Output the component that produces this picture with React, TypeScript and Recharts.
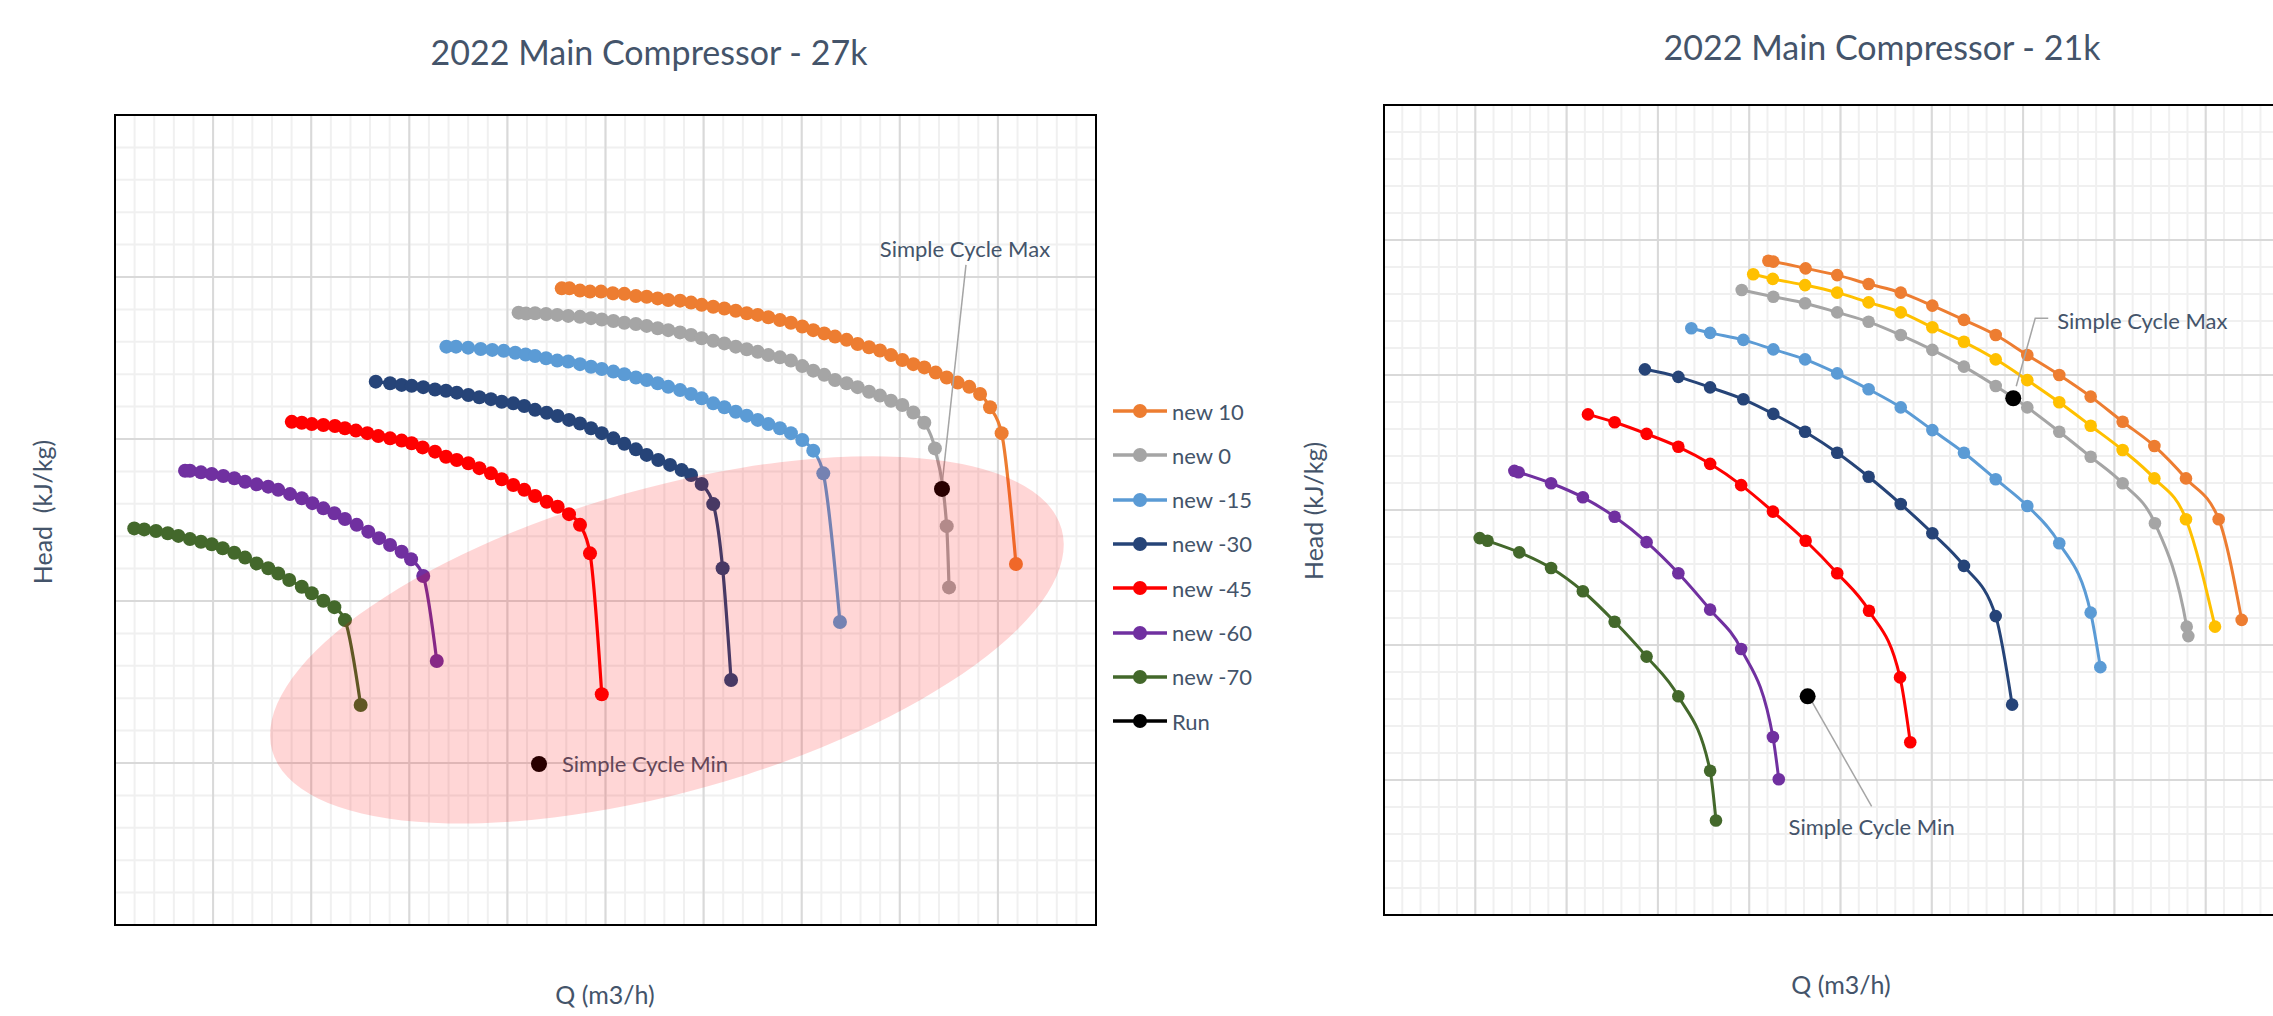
import React from "react";
import {
  ComposedChart,
  Line,
  Scatter,
  XAxis,
  YAxis,
  CartesianGrid,
  ReferenceArea,
} from "recharts";

type Pt = [number, number];

// Axis units are grid divisions (the source charts hide the numbers).
// 27k map: Q 0..50, Head 0..25
const left10: Pt[] = [[22.77,19.65],[23.16,19.65],[23.70,19.58],[24.21,19.55],[24.77,19.55],[25.37,19.50],[25.96,19.48],[26.55,19.41],[27.10,19.39],[27.66,19.34],[28.20,19.29],[28.80,19.27],[29.36,19.21],[29.90,19.14],[30.49,19.08],[31.06,19.03],[31.64,18.96],[32.20,18.88],[32.76,18.83],[33.30,18.76],[33.89,18.67],[34.45,18.59],[35.03,18.47],[35.59,18.36],[36.15,18.26],[36.70,18.16],[37.29,18.06],[37.85,17.93],[38.43,17.83],[38.99,17.73],[39.55,17.59],[40.13,17.44],[40.69,17.31],[41.25,17.21],[41.83,17.05],[42.39,16.90],[42.95,16.74],[43.54,16.61],[44.09,16.39],[44.60,15.98],[45.19,15.18],[45.92,11.14]];
const left0: Pt[] = [[20.57,18.90],[20.95,18.87],[21.41,18.88],[21.97,18.86],[22.54,18.83],[23.10,18.80],[23.70,18.77],[24.26,18.73],[24.81,18.69],[25.40,18.64],[25.96,18.59],[26.55,18.55],[27.10,18.49],[27.66,18.42],[28.20,18.36],[28.80,18.29],[29.36,18.21],[29.90,18.11],[30.49,18.03],[31.06,17.95],[31.64,17.85],[32.20,17.77],[32.76,17.69],[33.30,17.59],[33.89,17.52],[34.45,17.42],[35.03,17.25],[35.59,17.11],[36.15,16.98],[36.70,16.82],[37.29,16.72],[37.85,16.60],[38.43,16.46],[38.99,16.34],[39.55,16.18],[40.13,16.05],[40.69,15.82],[41.25,15.50],[41.79,14.71],[42.39,12.31],[42.51,10.42]];
const leftM15: Pt[] = [[16.89,17.85],[17.38,17.85],[18.00,17.82],[18.64,17.78],[19.23,17.75],[19.81,17.72],[20.40,17.66],[20.93,17.61],[21.41,17.56],[21.97,17.49],[22.54,17.42],[23.10,17.39],[23.70,17.31],[24.26,17.23],[24.81,17.16],[25.40,17.08],[25.96,17.00],[26.55,16.90],[27.10,16.82],[27.66,16.72],[28.20,16.61],[28.80,16.51],[29.36,16.39],[29.90,16.26],[30.49,16.10],[31.06,15.98],[31.64,15.84],[32.20,15.72],[32.76,15.59],[33.30,15.46],[33.89,15.33],[34.45,15.18],[35.03,14.97],[35.59,14.64],[36.10,13.94],[36.95,9.35]];
const leftM30: Pt[] = [[13.29,16.77],[14.02,16.72],[14.61,16.67],[15.12,16.64],[15.71,16.60],[16.31,16.53],[16.87,16.49],[17.42,16.43],[18.01,16.36],[18.57,16.29],[19.16,16.23],[19.71,16.15],[20.30,16.10],[20.86,16.02],[21.41,15.90],[22.00,15.81],[22.56,15.71],[23.14,15.59],[23.70,15.48],[24.26,15.33],[24.81,15.18],[25.40,15.02],[25.96,14.85],[26.55,14.68],[27.10,14.51],[27.69,14.35],[28.29,14.20],[28.88,14.04],[29.36,13.89],[29.90,13.61],[30.49,12.99],[30.97,11.01],[31.40,7.56]];
const leftM45: Pt[] = [[9.01,15.53],[9.52,15.50],[10.03,15.46],[10.62,15.43],[11.21,15.40],[11.72,15.33],[12.28,15.26],[12.86,15.18],[13.42,15.09],[14.02,15.02],[14.61,14.95],[15.12,14.87],[15.68,14.74],[16.31,14.61],[16.87,14.45],[17.42,14.35],[18.01,14.25],[18.57,14.10],[19.16,13.94],[19.71,13.76],[20.30,13.58],[20.86,13.43],[21.41,13.24],[22.00,13.06],[22.56,12.91],[23.14,12.68],[23.70,12.35],[24.21,11.47],[24.81,7.12]];
const leftM60: Pt[] = [[3.57,14.02],[3.82,14.02],[4.38,13.97],[4.93,13.92],[5.52,13.86],[6.08,13.79],[6.63,13.68],[7.22,13.60],[7.81,13.53],[8.32,13.43],[8.92,13.30],[9.52,13.17],[10.06,13.02],[10.62,12.86],[11.18,12.71],[11.72,12.53],[12.32,12.35],[12.91,12.14],[13.46,11.94],[14.02,11.73],[14.61,11.52],[15.09,11.29],[15.71,10.77],[16.40,8.15]];
const leftM70: Pt[] = [[0.98,12.24],[1.49,12.21],[2.09,12.16],[2.69,12.09],[3.23,12.01],[3.82,11.91],[4.38,11.83],[4.93,11.75],[5.49,11.63],[6.08,11.49],[6.63,11.34],[7.22,11.16],[7.81,11.01],[8.32,10.85],[8.88,10.65],[9.52,10.44],[10.03,10.24],[10.62,10.01],[11.18,9.81],[11.72,9.41],[12.52,6.79]];
const leftRun: Pt[] = [[42.15,13.46],[21.61,4.97]];
const leftZone: Pt[] = [[28.13,8.80]];

// 21k map: Q 0..50, Head 0..30
const right10: Pt[] = [[21.05,24.23],[21.32,24.20],[23.09,23.95],[24.82,23.70],[26.54,23.37],[28.30,23.05],[30.03,22.57],[31.76,22.04],[33.50,21.48],[35.23,20.74],[36.98,20.00],[38.70,19.20],[40.45,18.27],[42.19,17.37],[43.92,16.17],[45.71,14.66],[46.97,10.93]];
const right5: Pt[] = [[20.22,23.73],[21.29,23.56],[23.06,23.33],[24.82,23.05],[26.54,22.69],[28.30,22.32],[30.03,21.77],[31.76,21.23],[33.50,20.58],[35.23,19.81],[36.98,18.99],[38.70,18.12],[40.45,17.22],[42.19,16.17],[43.92,14.66],[45.51,10.68]];
const right0: Pt[] = [[19.59,23.15],[21.32,22.90],[23.06,22.66],[24.82,22.32],[26.54,21.97],[28.30,21.48],[30.03,20.93],[31.76,20.31],[33.50,19.59],[35.23,18.80],[36.98,17.90],[38.70,16.97],[40.45,15.99],[42.22,14.51],[43.96,10.68],[44.05,10.33]];
const rightM15: Pt[] = [[16.83,21.73],[17.86,21.56],[19.68,21.30],[21.32,20.95],[23.06,20.58],[24.82,20.06],[26.54,19.47],[28.30,18.80],[30.03,17.96],[31.76,17.12],[33.50,16.14],[35.23,15.15],[36.98,13.77],[38.70,11.20],[39.23,9.18]];
const rightM30: Pt[] = [[14.29,20.21],[16.12,19.93],[17.86,19.54],[19.68,19.10],[21.32,18.56],[23.06,17.90],[24.82,17.12],[26.54,16.23],[28.30,15.22],[30.03,14.14],[31.76,12.93],[33.50,11.07],[34.40,7.79]];
const rightM45: Pt[] = [[11.17,18.54],[12.63,18.25],[14.38,17.82],[16.12,17.34],[17.86,16.71],[19.56,15.92],[21.30,14.94],[23.09,13.86],[24.82,12.66],[26.56,11.27],[28.26,8.80],[28.82,6.40]];
const rightM60: Pt[] = [[7.14,16.45],[7.37,16.40],[9.15,15.99],[10.89,15.47],[12.63,14.75],[14.38,13.81],[16.12,12.66],[17.86,11.31],[19.56,9.85],[21.30,6.59],[21.62,5.03]];
const rightM70: Pt[] = [[5.24,13.96],[5.67,13.86],[7.41,13.43],[9.15,12.85],[10.89,11.99],[12.63,10.86],[14.38,9.57],[16.12,8.10],[17.86,5.34],[18.18,3.50]];
const rightRun: Pt[] = [[34.46,19.14],[23.20,8.10]];

const runLabels = ["Simple Cycle Max", "Simple Cycle Min"];
const legendNames = ["new 10", "new 0", "new -15", "new -30", "new -45", "new -60", "new -70", "Run"];

const C = {
  orange: "#ED7D31",
  gray: "#A5A5A5",
  blue: "#5B9BD5",
  navy: "#264478",
  red: "#FF0000",
  purple: "#7030A0",
  green: "#43682B",
  yellow: "#FFC000",
  black: "#000000",
};
const legendColors = [C.orange, C.gray, C.blue, C.navy, C.red, C.purple, C.green, C.black];
const TEXT = "#44546A";
const FONT = "Lato, 'Open Sans', sans-serif";

const toRows = (pts: Pt[], labels?: string[]) =>
  pts.map(([q, h], i) => ({ q, h, label: labels ? labels[i] : "" }));

type Series = { name: string; color: string; pts: Pt[] };

const leftSeries: Series[] = [
  { name: "new 10", color: C.orange, pts: left10 },
  { name: "new 0", color: C.gray, pts: left0 },
  { name: "new -15", color: C.blue, pts: leftM15 },
  { name: "new -30", color: C.navy, pts: leftM30 },
  { name: "new -45", color: C.red, pts: leftM45 },
  { name: "new -60", color: C.purple, pts: leftM60 },
  { name: "new -70", color: C.green, pts: leftM70 },
];

const rightSeries: Series[] = [
  { name: "new 10", color: C.orange, pts: right10 },
  { name: "new 5", color: C.yellow, pts: right5 },
  { name: "new 0", color: C.gray, pts: right0 },
  { name: "new -15", color: C.blue, pts: rightM15 },
  { name: "new -30", color: C.navy, pts: rightM30 },
  { name: "new -45", color: C.red, pts: rightM45 },
  { name: "new -60", color: C.purple, pts: rightM60 },
  { name: "new -70", color: C.green, pts: rightM70 },
];

// label placement (pixels from the point)
type Callout = { dx: number; dy: number; anchor: "start" | "middle"; leader?: number[][] };
const leftCallouts: Record<string, Callout> = {
  "Simple Cycle Max": { dx: 23, dy: -240, anchor: "middle", leader: [[0, -4], [24, -224]] },
  "Simple Cycle Min": { dx: 23, dy: 0, anchor: "start" },
};
const rightCallouts: Record<string, Callout> = {
  "Simple Cycle Max": { dx: 44, dy: -78, anchor: "start", leader: [[3, -12], [22, -80], [35, -80]] },
  "Simple Cycle Min": { dx: 64, dy: 130, anchor: "middle", leader: [[3, 3], [64, 110]] },
};

const steps = (max: number, step: number) =>
  Array.from({ length: Math.round(max / step) + 1 }, (_, i) => i * step);

function makeRunShape(callouts: Record<string, Callout>, r: number) {
  return (props: any) => {
    const { cx, cy, payload } = props;
    const c = callouts[payload.label];
    return (
      <g>
        {c?.leader && (
          <polyline
            points={c.leader.map(([x, y]) => `${cx + x},${cy + y}`).join(" ")}
            fill="none"
            stroke="#A5A5A5"
            strokeWidth={1.5}
          />
        )}
        <circle cx={cx} cy={cy} r={r} fill={C.black} />
        {c && (
          <text
            x={cx + c.dx}
            y={cy + c.dy}
            textAnchor={c.anchor}
            dominantBaseline="central"
            fontFamily={FONT}
            fontSize={22}
            fill={TEXT}
          >
            {payload.label}
          </text>
        )}
      </g>
    );
  };
}

function ZoneShape(props: any) {
  const { cx, cy } = props;
  return (
    <ellipse
      cx={cx}
      cy={cy}
      rx={410}
      ry={152}
      transform={`rotate(-15.7 ${cx} ${cy})`}
      fill="#FF0000"
      fillOpacity={0.16}
    />
  );
}

interface MapProps {
  series: Series[];
  run: Pt[];
  callouts: Record<string, Callout>;
  zone?: Pt[];
  width: number;
  height: number;
  margin: { top: number; right: number; bottom: number; left: number };
  yMax: number;
  dotR: number;
  runR: number;
  lineW: number;
}

const hiddenTick = { fill: "transparent", fontSize: 1 };

function CompressorMap({ series, run, callouts, zone, width, height, margin, yMax, dotR, runR, lineW }: MapProps) {
  const xMax = 50;
  const minorX = steps(xMax, 1);
  const majorX = steps(xMax, 5);
  const minorY = steps(yMax, 1);
  const majorY = steps(yMax, 5);
  return (
    <ComposedChart width={width} height={height} margin={margin}>
      <CartesianGrid verticalValues={minorX} horizontalValues={minorY} stroke="#F0F0F0" strokeWidth={2} />
      <CartesianGrid verticalValues={majorX} horizontalValues={majorY} stroke="#D9D9D9" strokeWidth={2} />
      <XAxis
        type="number"
        dataKey="q"
        domain={[0, xMax]}
        ticks={minorX}
        interval={0}
        axisLine={false}
        tickLine={false}
        tick={hiddenTick}
        tickFormatter={() => ""}
        height={0}
      />
      <YAxis
        type="number"
        domain={[0, yMax]}
        ticks={minorY.slice(1, -1)}
        interval={0}
        mirror
        width={0}
        axisLine={false}
        tickLine={{ stroke: "#000", strokeWidth: 2 }}
        tickSize={6}
        tick={hiddenTick}
        tickFormatter={() => ""}
      />
      {series.map((s) => (
        <Line
          key={s.name}
          name={s.name}
          data={toRows(s.pts)}
          dataKey="h"
          type="monotone"
          stroke={s.color}
          strokeWidth={lineW}
          dot={{ r: dotR, fill: s.color, stroke: s.color, strokeWidth: 0 }}
          activeDot={false}
          isAnimationActive={false}
        />
      ))}
      <Scatter
        name="Run"
        data={toRows(run, runLabels)}
        dataKey="h"
        shape={makeRunShape(callouts, runR)}
        isAnimationActive={false}
      />
      <ReferenceArea x1={0} x2={xMax} y1={0} y2={yMax} fill="none" stroke="#000" strokeWidth={2} />
      {zone && (
        <Scatter name="zone" data={toRows(zone)} dataKey="h" shape={ZoneShape} isAnimationActive={false} />
      )}
    </ComposedChart>
  );
}

function Txt({ x, y, size, rotate, children }: { x: number; y: number; size: number; rotate?: boolean; children: React.ReactNode }) {
  return (
    <div
      style={{
        position: "absolute",
        left: x,
        top: y,
        transform: `translate(-50%, -50%)${rotate ? " rotate(-90deg)" : ""}`,
        whiteSpace: "pre",
        fontSize: size,
        lineHeight: 1,
        color: TEXT,
      }}
    >
      {children}
    </div>
  );
}

function Legend27() {
  return (
    <div style={{ position: "absolute", left: 1113, top: 0 }}>
      {legendNames.map((n, i) => (
        <div
          key={n}
          style={{
            position: "absolute",
            top: 411 + i * 44.3 - 15,
            left: 0,
            height: 30,
            display: "flex",
            alignItems: "center",
            whiteSpace: "pre",
            fontSize: 22,
            color: TEXT,
          }}
        >
          <svg width={59} height={30} style={{ display: "block" }}>
            <line x1={0} y1={15} x2={54} y2={15} stroke={legendColors[i]} strokeWidth={3.5} />
            <circle cx={27} cy={15} r={7} fill={legendColors[i]} />
          </svg>
          <span>{n}</span>
        </div>
      ))}
    </div>
  );
}

export default function App() {
  return (
    <div
      style={{
        position: "absolute",
        left: 0,
        top: 0,
        width: 2273,
        height: 1016,
        overflow: "hidden",
        background: "#fff",
        fontFamily: FONT,
      }}
    >
      <div style={{ position: "absolute", left: 0, top: 0 }}>
        <CompressorMap
          series={leftSeries}
          run={leftRun}
          callouts={leftCallouts}
          zone={leftZone}
          width={1100}
          height={1016}
          margin={{ top: 115, right: 4, bottom: 91, left: 115 }}
          yMax={25}
          dotR={7}
          runR={8}
          lineW={3.2}
        />
      </div>
      <div style={{ position: "absolute", left: 1200, top: 0 }}>
        <CompressorMap
          series={rightSeries}
          run={rightRun}
          callouts={rightCallouts}
          width={1200}
          height={1016}
          margin={{ top: 105, right: 103, bottom: 101, left: 184 }}
          yMax={30}
          dotR={6.3}
          runR={8}
          lineW={3}
        />
      </div>
      <Txt x={649} y={52} size={34}>2022 Main Compressor - 27k</Txt>
      <Txt x={1882} y={47} size={34}>2022 Main Compressor - 21k</Txt>
      <Txt x={42} y={512} size={25} rotate>{"Head  (kJ/kg)"}</Txt>
      <Txt x={1313} y={511} size={25} rotate>Head (kJ/kg)</Txt>
      <Txt x={605} y={994} size={25}>Q (m3/h)</Txt>
      <Txt x={1841} y={984} size={25}>Q (m3/h)</Txt>
      <Legend27 />
    </div>
  );
}
